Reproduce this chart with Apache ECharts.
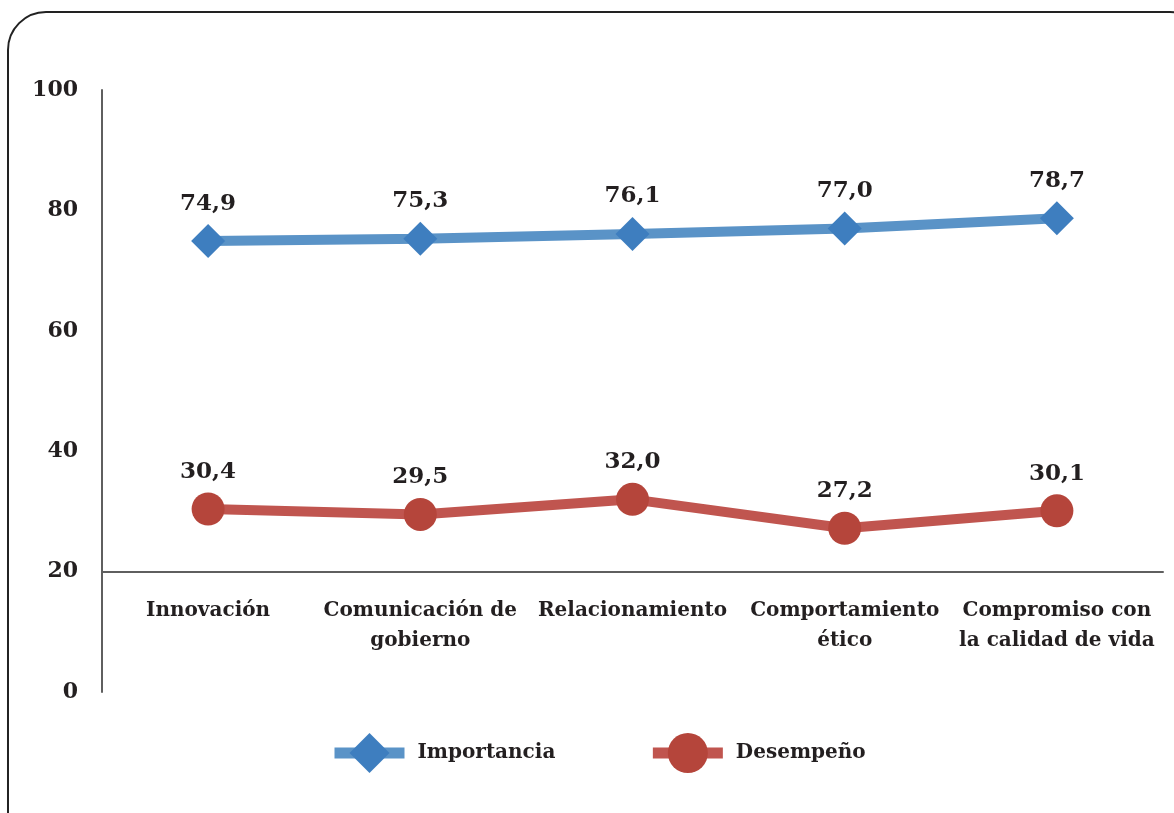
<!DOCTYPE html>
<html>
<head>
<meta charset="utf-8">
<script src="https://cdn.jsdelivr.net/npm/echarts@6/dist/echarts.min.js"></script>
<style>
  html, body { margin: 0; padding: 0; background: #fff; }
  #chart { width: 1174px; height: 813px; }
</style>
</head>
<body>
<div id="chart"></div>
<script>
// categorias del eje X
var categorias = [
  "Innovación",
  "Comunicación de\ngobierno",
  "Relacionamiento",
  "Comportamiento\nético",
  "Compromiso con\nla calidad de vida"
];
var importancia = [74.9, 75.3, 76.1, 77.0, 78.7];
var desempeno = [30.4, 29.5, 32.0, 27.2, 30.1];
var yTicks = [0, 20, 40, 60, 80, 100];

var fuente = "DejaVu Serif";
var negro = "#231f20";

var chart = echarts.init(document.getElementById("chart"));

function coma(p) {
  return p.value.toFixed(1).replace(".", ",");
}

chart.setOption({
  animation: false,
  textStyle: { fontFamily: fuente },
  graphic: [
    {
      type: "rect",
      shape: { x: 8, y: 12, width: 1200, height: 840, r: 38 },
      style: { fill: "none", stroke: "#222", lineWidth: 2 },
      z: -1
    }
  ],
  legend: {
    left: 324,
    top: 728,
    itemWidth: 70,
    itemHeight: 50,
    itemGap: 92,
    lineStyle: { width: 11 },
    textStyle: { fontFamily: fuente, fontWeight: "bold", fontSize: 20, color: negro, padding: [0, 0, 0, 8] },
    data: ["Importancia", "Desempeño"]
  },
  grid: { left: 102, right: 11, top: 90, bottom: 121 },
  xAxis: {
    type: "category",
    data: categorias,
    offset: -120,
    axisLine: { lineStyle: { color: "#5f5f5f", width: 2 } },
    axisTick: { show: false },
    axisLabel: {
      interval: 0,
      margin: 24,
      fontFamily: fuente,
      fontWeight: "bold",
      fontSize: 20,
      lineHeight: 30,
      color: negro
    }
  },
  yAxis: {
    type: "value",
    min: yTicks[0],
    max: yTicks[yTicks.length - 1],
    interval: 20,
    axisLine: { show: true, lineStyle: { color: "#5f5f5f", width: 2 } },
    axisTick: { show: false },
    splitLine: { show: false },
    axisLabel: {
      margin: 24,
      fontFamily: fuente,
      fontWeight: "bold",
      fontSize: 22,
      color: negro
    }
  },
  series: [
    {
      name: "Importancia",
      type: "line",
      data: importancia,
      symbol: "diamond",
      symbolSize: 34,
      lineStyle: { color: "#5a93c7", width: 10 },
      itemStyle: { color: "#3e7ebf" },
      label: {
        show: true,
        position: "top",
        distance: 9,
        formatter: coma,
        fontFamily: fuente,
        fontWeight: "bold",
        fontSize: 23,
        color: negro
      }
    },
    {
      name: "Desempeño",
      type: "line",
      data: desempeno,
      symbol: "circle",
      symbolSize: 33,
      lineStyle: { color: "#c0554f", width: 10 },
      itemStyle: { color: "#b5453b" },
      label: {
        show: true,
        position: "top",
        distance: 9,
        formatter: coma,
        fontFamily: fuente,
        fontWeight: "bold",
        fontSize: 23,
        color: negro
      }
    }
  ]
});
</script>
</body>
</html>
